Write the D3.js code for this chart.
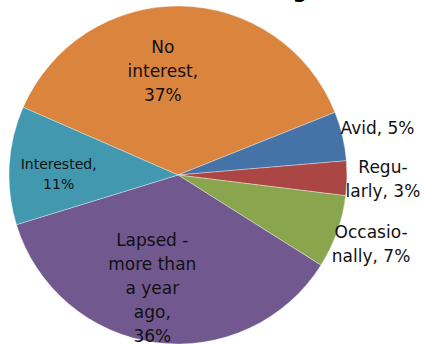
<!DOCTYPE html>
<html>
<head>
<meta charset="utf-8">
<script src="https://cdn.jsdelivr.net/npm/d3@7"></script>
<style>
html,body{margin:0;padding:0;background:#fff;}
svg{display:block;}
</style>
</head>
<body>
<svg id="chart" width="422" height="344"></svg>
<script>
// Data (shares, %; label shows the rounded value)
const categories = ["No interest", "Avid", "Regularly", "Occasionally", "Lapsed - more than a year ago", "Interested"];
const labelLines = [
  ["No", "interest,"],
  ["Avid,"],
  ["Regu-", "larly,"],
  ["Occasio-", "nally,"],
  ["Lapsed -", "more than", "a year", "ago,"],
  ["Interested,"]
];
const shares = [37.4, 4.7, 3.3, 7.0, 36.3, 11.3];
const colors = ["#DB843D", "#4572A7", "#AA4643", "#89A54E", "#71588F", "#4198AF"];
const titleText = "Interest in Shooting";

const W = 422, H = 344;
const cx = 178, cy = 175, R = 169;
const svg = d3.select("#chart");

// title (mostly above the visible area, as in the reference)
svg.append("text")
  .attr("x", 307).attr("y", -2)
  .attr("text-anchor", "end")
  .attr("font-family", "DejaVu Sans, sans-serif")
  .attr("font-weight", "bold")
  .attr("font-size", 20)
  .attr("fill", "#000")
  .text(titleText);

const startDeg = -66.4;
const pie = d3.pie().sort(null).value(d => d)
  .startAngle(startDeg * Math.PI / 180)
  .endAngle(startDeg * Math.PI / 180 + 2 * Math.PI);
const arcs = pie(shares);
const arc = d3.arc().innerRadius(0).outerRadius(R);

const g = svg.append("g").attr("transform", `translate(${cx},${cy})`);
g.selectAll("path.slice").data(arcs).enter().append("path")
  .attr("class", "slice")
  .attr("d", arc)
  .attr("fill", (d, i) => colors[i])
  .attr("stroke", "rgba(255,255,255,0.6)")
  .attr("stroke-width", 0.6);

// label layout
const insideArc = d3.arc().innerRadius(R * 0.66).outerRadius(R * 0.66);
const outsideArc = d3.arc().innerRadius(205).outerRadius(205);
const nudges = {0: [-17, 8], 4: [-11, 2], 5: [-8, 5]};

arcs.forEach((d, i) => {
  const pct = Math.round(shares[i]) + "%";
  let lines = labelLines[i].slice();
  const isSmall = shares[i] < 10;
  if (isSmall) {
    lines[lines.length - 1] = lines[lines.length - 1] + " " + pct;
  } else {
    lines.push(pct);
  }
  const c = (isSmall ? outsideArc : insideArc).centroid(d);
  const nd = nudges[i] || [0, 0];
  const fs = (i === 5) ? 14 : 17;
  const lh = (i === 5) ? 20 : 24;
  const x = c[0] + nd[0], y = c[1] + nd[1];
  const t = g.append("text")
    .attr("text-anchor", "middle")
    .attr("font-family", "DejaVu Sans, sans-serif")
    .attr("font-size", fs)
    .attr("fill", "#111");
  const n = lines.length;
  lines.forEach((ln, k) => {
    t.append("tspan")
      .attr("x", x)
      .attr("y", y + (k - (n - 1) / 2) * lh)
      .attr("dy", "0.35em")
      .text(ln);
  });
});
</script>
</body>
</html>
